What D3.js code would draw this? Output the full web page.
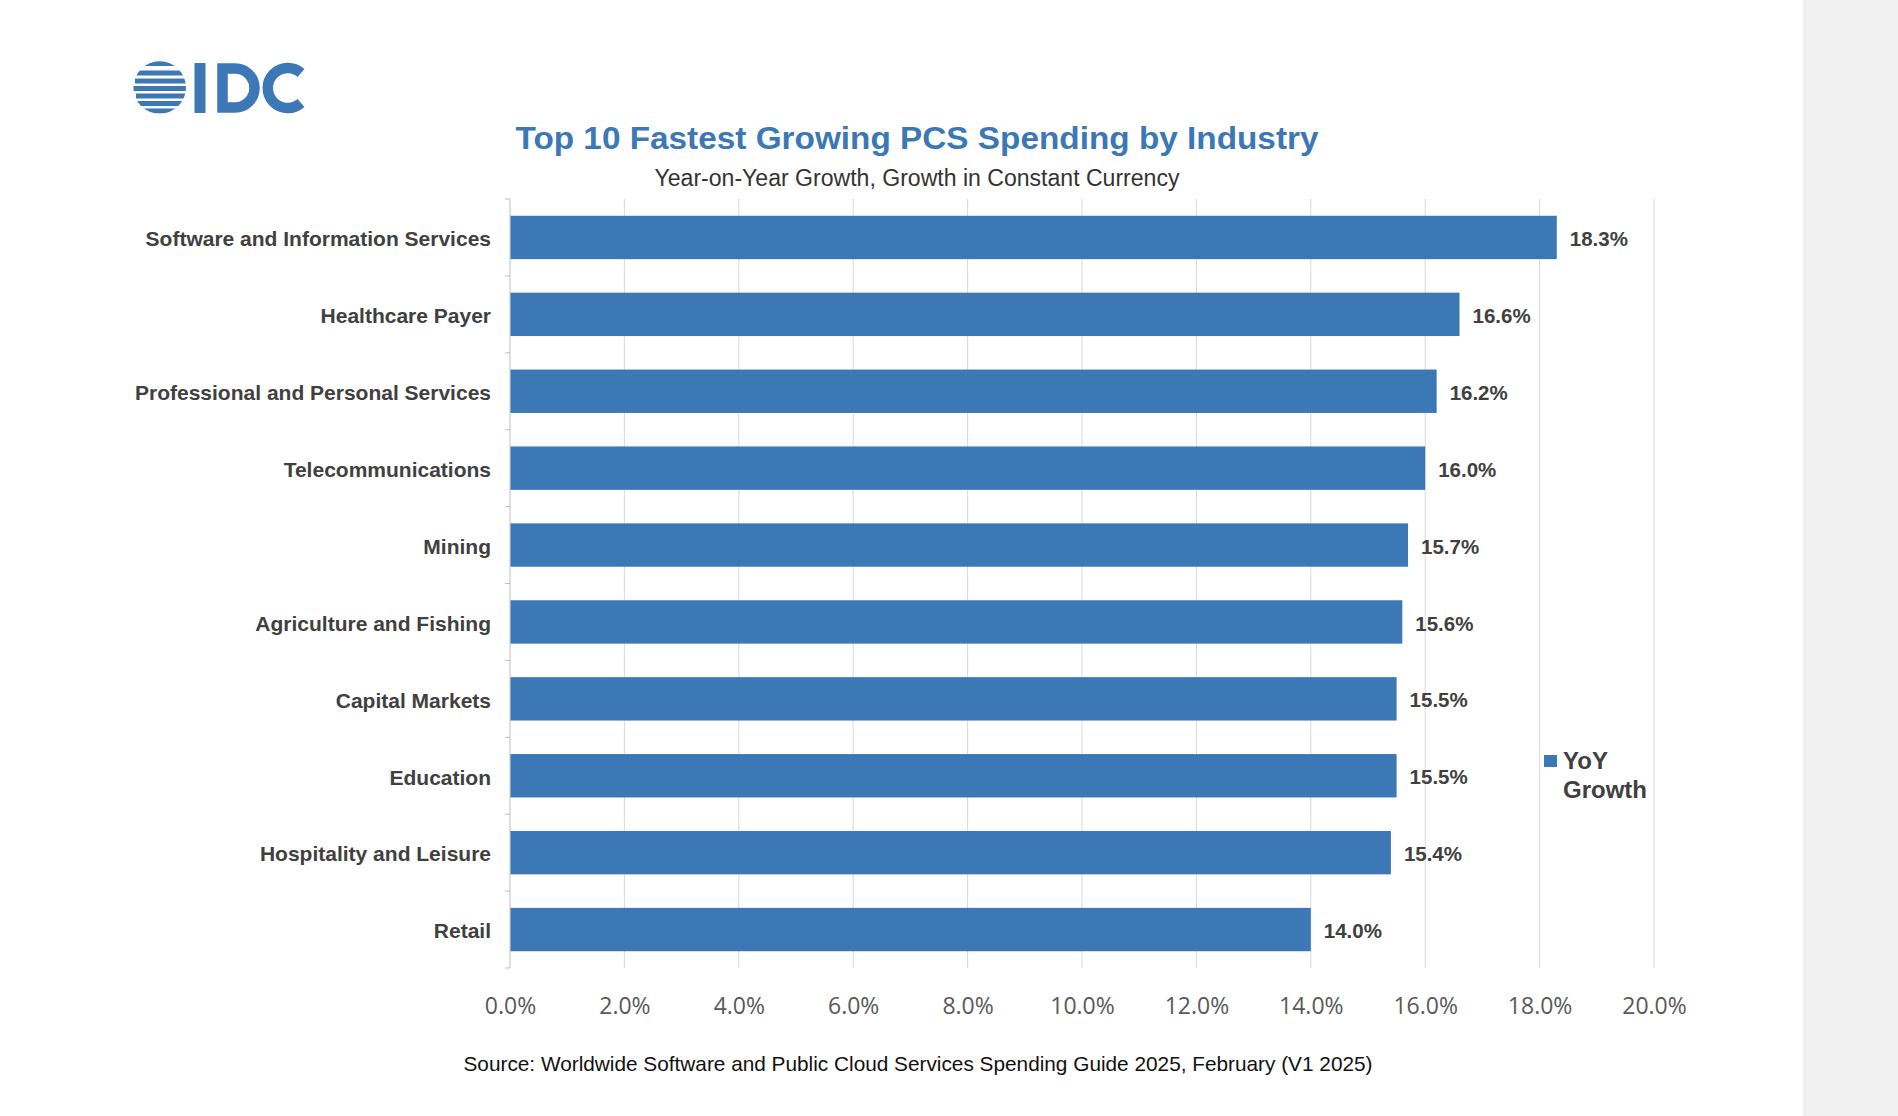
<!DOCTYPE html>
<html>
<head>
<meta charset="utf-8">
<script src="https://cdn.jsdelivr.net/npm/d3@7"></script>
<style>
  html, body { margin: 0; padding: 0; background: #ffffff; }
  svg { display: block; }
</style>
</head>
<body>
<svg id="chart" width="1898" height="1116"></svg>
<script>
// ---- data ----
const categories = [
  "Software and Information Services",
  "Healthcare Payer",
  "Professional and Personal Services",
  "Telecommunications",
  "Mining",
  "Agriculture and Fishing",
  "Capital Markets",
  "Education",
  "Hospitality and Leisure",
  "Retail"
];
const yoyGrowth = [0.183, 0.166, 0.162, 0.160, 0.157, 0.156, 0.155, 0.155, 0.154, 0.140];
const xTickValues = [0, 0.02, 0.04, 0.06, 0.08, 0.10, 0.12, 0.14, 0.16, 0.18, 0.20];
const seriesName = ["YoY", "Growth"];
const titleText = "Top 10 Fastest Growing PCS Spending by Industry";
const subtitleText = "Year-on-Year Growth, Growth in Constant Currency";
const sourceText = "Source: Worldwide Software and Public Cloud Services Spending Guide 2025, February (V1 2025)";

// ---- styles ----
const BLUE = "#3c77b6";
const LABEL = "#404040";
const FONT = "'Liberation Sans', Arial, sans-serif";

const svg = d3.select("#chart");

// right gray panel
svg.append("rect").attr("x", 1803).attr("y", 0).attr("width", 95).attr("height", 1116).attr("fill", "#f0f0f0");

// ---- logo ----
const logo = svg.append("g");
const defs = svg.append("defs");
defs.append("clipPath").attr("id", "globeClip")
  .append("circle").attr("cx", 159.7).attr("cy", 87.5).attr("r", 26.3);
const globe = logo.append("g").attr("clip-path", "url(#globeClip)");
const stripeY = [61, 70.5, 78.5, 86, 93.5, 101, 108.5];
const stripeOff = [4, 0, 5, 0, 6, 0, 4];
stripeY.forEach((sy, i) => {
  globe.append("rect").attr("x", 130 + stripeOff[i]).attr("y", sy).attr("width", 60).attr("height", 5).attr("fill", BLUE);
});
logo.append("rect").attr("x", 194.5).attr("y", 63).attr("width", 11).attr("height", 50).attr("fill", BLUE);
logo.append("path")
  .attr("d", "M222.5,68.5 H235 A19.5,19.5 0 0 1 235,107.5 H222.5 Z")
  .attr("fill", "none").attr("stroke", BLUE).attr("stroke-width", 10.5);
logo.append("path")
  .attr("d", "M301,73 A20,20 0 1 0 301,103")
  .attr("fill", "none").attr("stroke", BLUE).attr("stroke-width", 10.5);

// ---- titles ----
svg.append("text").attr("x", 917).attr("y", 149).attr("text-anchor", "middle")
  .attr("font-family", FONT).attr("font-weight", "bold").attr("font-size", 32)
  .attr("fill", BLUE).attr("textLength", 803).attr("lengthAdjust", "spacingAndGlyphs")
  .text(titleText);
svg.append("text").attr("x", 917).attr("y", 186).attr("text-anchor", "middle")
  .attr("font-family", FONT).attr("font-size", 23)
  .attr("fill", "#333").attr("textLength", 525).attr("lengthAdjust", "spacingAndGlyphs")
  .text(subtitleText);
svg.append("text").attr("x", 918).attr("y", 1071).attr("text-anchor", "middle")
  .attr("font-family", FONT).attr("font-size", 21)
  .attr("fill", "#111").attr("textLength", 909).attr("lengthAdjust", "spacingAndGlyphs")
  .text(sourceText);

// ---- scales ----
const x = d3.scaleLinear().domain([0, 0.2]).range([510, 1654]);
const y = d3.scaleBand().domain(categories).range([199, 968]).paddingInner(0.436).paddingOuter(0.218);

// gridlines
svg.append("g").selectAll("line").data(xTickValues.slice(1)).join("line")
  .attr("x1", d => x(d)).attr("x2", d => x(d))
  .attr("y1", 199).attr("y2", 968)
  .attr("stroke", "#d9d9d9").attr("stroke-width", 1);

// left axis line + boundary ticks
const boundaries = d3.range(categories.length + 1).map(i => 199 + i * y.step());
svg.append("line").attr("x1", 510).attr("x2", 510).attr("y1", 199).attr("y2", 968)
  .attr("stroke", "#bfbfbf").attr("stroke-width", 1);
svg.append("g").selectAll("line").data(boundaries).join("line")
  .attr("x1", 505).attr("x2", 510).attr("y1", d => d).attr("y2", d => d)
  .attr("stroke", "#bfbfbf").attr("stroke-width", 1);

// bars
svg.append("g").selectAll("rect").data(yoyGrowth).join("rect")
  .attr("x", x(0) + 0.5)
  .attr("y", (d, i) => y(categories[i]))
  .attr("width", d => x(d) - x(0) - 0.5)
  .attr("height", y.bandwidth())
  .attr("fill", BLUE);

// value labels
svg.append("g").selectAll("text").data(yoyGrowth).join("text")
  .attr("x", d => x(d) + 13)
  .attr("y", (d, i) => y(categories[i]) + y.bandwidth() / 2)
  .attr("dy", "0.42em")
  .attr("font-family", FONT).attr("font-weight", "bold").attr("font-size", 20.5)
  .attr("fill", LABEL)
  .text(d => d3.format(".1%")(d));

// category axis
const yAxis = svg.append("g").attr("transform", "translate(510,0)")
  .call(d3.axisLeft(y).tickSize(0).tickPadding(19));
yAxis.select(".domain").remove();
yAxis.selectAll("text")
  .attr("dy", "0.42em")
  .attr("font-family", FONT).attr("font-weight", "bold").attr("font-size", 21)
  .attr("fill", LABEL);

// x axis
const xAxis = svg.append("g").attr("transform", "translate(0,968)")
  .call(d3.axisBottom(x).tickValues(xTickValues).tickFormat(d3.format(".1%")).tickSize(0));
xAxis.select(".domain").remove();
xAxis.selectAll("text")
  .attr("y", 46).attr("dy", null)
  .attr("font-family", "'Open Sans', sans-serif").attr("font-size", 23)
  .attr("fill", "#595959");

// legend
const legend = svg.append("g");
legend.append("rect").attr("x", 1544).attr("y", 755).attr("width", 13).attr("height", 12).attr("fill", BLUE);
legend.selectAll("text").data(seriesName).join("text")
  .attr("x", 1563).attr("y", (d, i) => 769 + i * 28.5)
  .attr("font-family", FONT).attr("font-weight", "bold").attr("font-size", 24)
  .attr("fill", LABEL)
  .text(d => d);
</script>
</body>
</html>
